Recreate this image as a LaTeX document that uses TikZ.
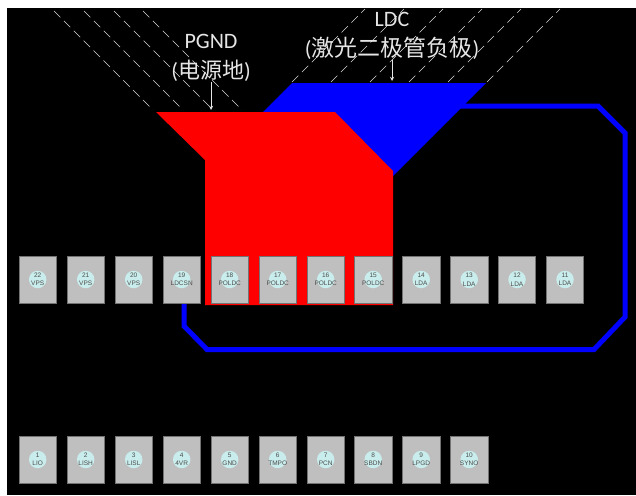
\documentclass[tikz,border=0pt]{standalone}
\usepackage{fontspec}
\setmainfont{Carlito}
\newfontfamily\cjk{Noto Sans CJK SC}
\newfontfamily\padfont{Liberation Sans}
\definecolor{dotcol}{HTML}{C9EDEC}
\begin{document}
\begin{tikzpicture}
[x=1pt,y=-1pt,
  hatchDecorate/.style={-,white!85!black,line width=0.6pt,dash pattern=on 9pt off 5pt},
  traceDecorate/.style={-,blue,line width=5pt,line join=miter},
  padDecorate/.style={shape=rectangle,draw=black!55,fill=black!25,line width=0.8pt,
    minimum width=37.5pt,minimum height=47pt,inner sep=0pt,outer sep=0pt},
  dotDecorate/.style={shape=circle,fill=dotcol,minimum size=17.5pt,inner sep=0pt},
  padText/.style={align=center,inner sep=0pt,text=black!70,font=\padfont\fontsize{6.5}{8.5}\selectfont},
  labelDecorate/.style={align=center,inner sep=0pt,text=white!90!black,font=\fontsize{22}{30}\selectfont},
  arrowDecorate/.style={-stealth,white!90!black,line width=0.9pt}]
\useasboundingbox (0,0) rectangle (636,495);
\fill[white] (0,0) rectangle (636,495);
\fill[black] (7,8) rectangle (636,495);
%% hatching
\foreach \x in {54,84,114,143}
{
  \draw[hatchDecorate] (\x,11) -- ++(99,99);
}
\foreach \x in {292,331,370,409,448,487}
{
  \draw[hatchDecorate] (\x,82) -- ++(73,-73);
}
%% copper
\fill[blue] (263,112) -- (292,83) -- (486,83) -- (393,176) -- (335,176) -- cycle;
\draw[traceDecorate] (440,106) -- (598,106) -- (625,133) -- (625,317) -- (594,349.5)
  -- (207,349.5) -- (184,326) -- (184,300);
\fill[red] (156,112) -- (335,112) -- (393,171) -- (393,305) -- (205,305) -- (205,160) -- cycle;
%% pads
\foreach \nodename/\x/\y/\padname in {
  22/37.7/279.5/VPS, 21/85.7/279.5/VPS, 20/133.7/279.5/VPS, 19/181.7/279.5/LDCSN,
  18/229.7/279.5/POLDC, 17/277.7/279.5/POLDC, 16/325.7/279.5/POLDC, 15/373.2/279.5/POLDC,
  14/421.2/279.5/LDA, 13/469.2/279.5/LDA, 12/517/279.5/LDA, 11/565/279.5/LDA,
  1/37.7/459.5/LIO, 2/85.7/459.5/LISH, 3/133.7/459.5/LISL, 4/181.7/459.5/4VR,
  5/229.7/459.5/GND, 6/277.7/459.5/TMPO, 7/325.7/459.5/PCN, 8/373.2/459.5/SBDN,
  9/421.2/459.5/LPGD, 10/469.2/459.5/SYNO}
{
  \node (pad\nodename) at (\x,\y) [padDecorate] {};
  \node (dot\nodename) at (pad\nodename) [dotDecorate] {};
  \node (txt\nodename) at (pad\nodename) [padText] {\nodename\\\padname};
}
%% labels
\node (pgnd) at (211,58) [labelDecorate] {PGND\\({\cjk 电源地})};
\node (ldc) at (392,36) [labelDecorate] {LDC\\({\fontsize{23}{30}\selectfont\cjk 激光二极管负极})};
\coordinate (pgndTip) at (211,110);
\coordinate (ldcTip) at (392,81);
\draw[arrowDecorate] (pgnd) -- (pgndTip);
\draw[arrowDecorate] (ldc) -- (ldcTip);
\end{tikzpicture}
\end{document}
